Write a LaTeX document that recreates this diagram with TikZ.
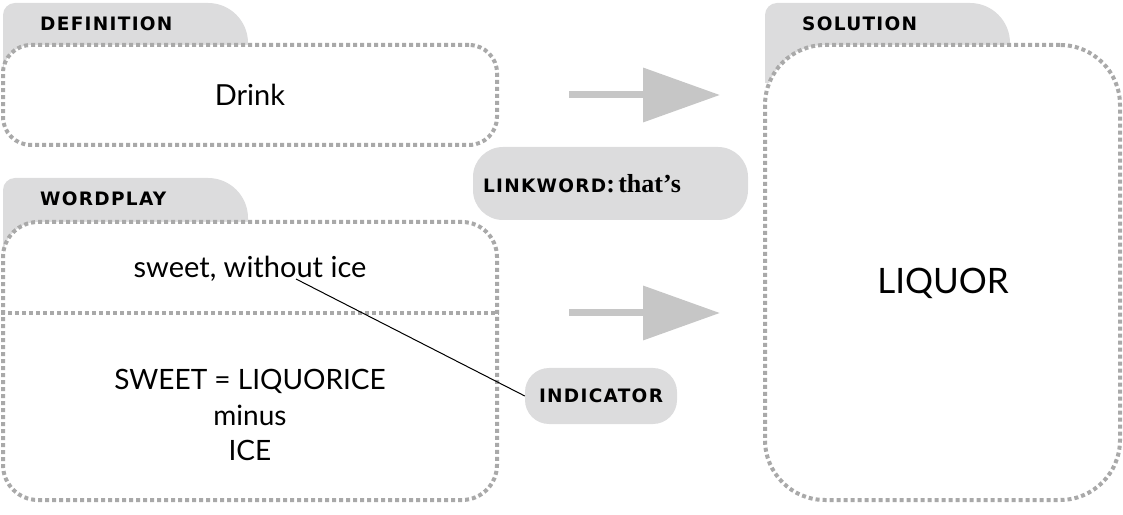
\documentclass[tikz,border=0pt]{standalone}
\usepackage{fontspec}
\setmainfont{Lato}
\newfontfamily\tabfont[LetterSpace=7]{DejaVu Sans}
\newfontfamily\linkfont{Liberation Serif}
\usetikzlibrary{arrows.meta,positioning}
\definecolor{tabgray}{HTML}{DCDCDD}
\definecolor{dotgray}{HTML}{A9A9A9}
\definecolor{arrowgray}{HTML}{C6C6C6}
\newcommand{\cluetab}[2]{% #1 = left x, #2 = top y
  \fill[tabgray] (#1,#2-80) -- (#1,#2-12) arc[start angle=180,end angle=90,radius=12]
    -- (#1+205,#2) arc[start angle=90,end angle=0,radius=40] -- (#1+245,#2-80) -- cycle;}
\newcommand{\tabtext}[1]{{\tabfont\bfseries\fontsize{18.5}{18.5}\selectfont #1}}

\begin{document}
\begin{tikzpicture}[
    x=1pt, y=1pt,
    box/.style={rectangle, draw=dotgray, line width=4pt, dash pattern=on 4pt off 3pt, fill=white, inner sep=0pt},
    dotline/.style={draw=dotgray, line width=4pt, dash pattern=on 4pt off 3pt},
    pill/.style={rectangle, fill=tabgray, rounded corners=28pt, inner sep=0pt},
    label/.style={anchor=base west, inner sep=0pt},
    word/.style={font=\fontsize{29}{35.5}\selectfont, align=center},
    arrow/.style={arrowgray, line width=7pt, -{Triangle[length=77pt, width=53pt]}}
]
    \useasboundingbox (0,0) rectangle (1123,514);

    % tabs behind the boxes
    \cluetab{3}{511}
    \cluetab{3}{336}
    \cluetab{765}{511}

    % boxes
    \node[box, rounded corners=28pt, minimum width=494pt, minimum height=100pt] (def) at (250,419) {};
    \node[box, rounded corners=35pt, minimum width=494pt, minimum height=278pt] (wp) at (250,153) {};
    \node[box, rounded corners=60pt, minimum width=355pt, minimum height=455pt] (sol) at (942.5,241.5) {};

    \node[label] (deflabel) at (40,483) {\tabtext{DEFINITION}};
    \node[label] (wplabel) at (40,308) {\tabtext{WORDPLAY}};
    \node[label] (sollabel) at (802,483) {\tabtext{SOLUTION}};

    % texts
    \node[word] (drink) at (def.center) {Drink};
    \node[word] (clue) at (250,245) {sweet, without ice};
    \node[word, font=\fontsize{28}{35.5}\selectfont] (sub) at (250,99) {SWEET = LIQUORICE\\minus\\ICE};
    \node[word, font=\fontsize{35}{40}\selectfont] (answer) at (943,231) {LIQUOR};

    \coordinate (split) at (0,201);
    \draw[dotline] (wp.west |- split) -- (wp.east |- split);

    % link and indicator
    \node[pill, rounded corners=30pt, minimum width=275pt, minimum height=73pt,
          text width=255pt, inner xsep=10pt, align=left] (link) at (610.5,330.5)
          {\tabtext{LINKWORD}{\linkfont\bfseries\fontsize{26}{26}\selectfont: that’s}};
    \node[pill, rounded corners=24pt, minimum width=152pt, minimum height=56pt] (ind) at (601,118)
          {\tabtext{INDICATOR}};

    \draw[arrow] ([xshift=70pt]def.east) -- ([xshift=-43pt]def.east -| sol.west);
    \draw[arrow] ([xshift=70pt]wp.east |- split) -- ([xshift=-43pt]sol.west |- split);

    \coordinate (ice) at (296,235);
    \draw[line width=1pt] (ice) -- (ind.west);
\end{tikzpicture}
\end{document}
